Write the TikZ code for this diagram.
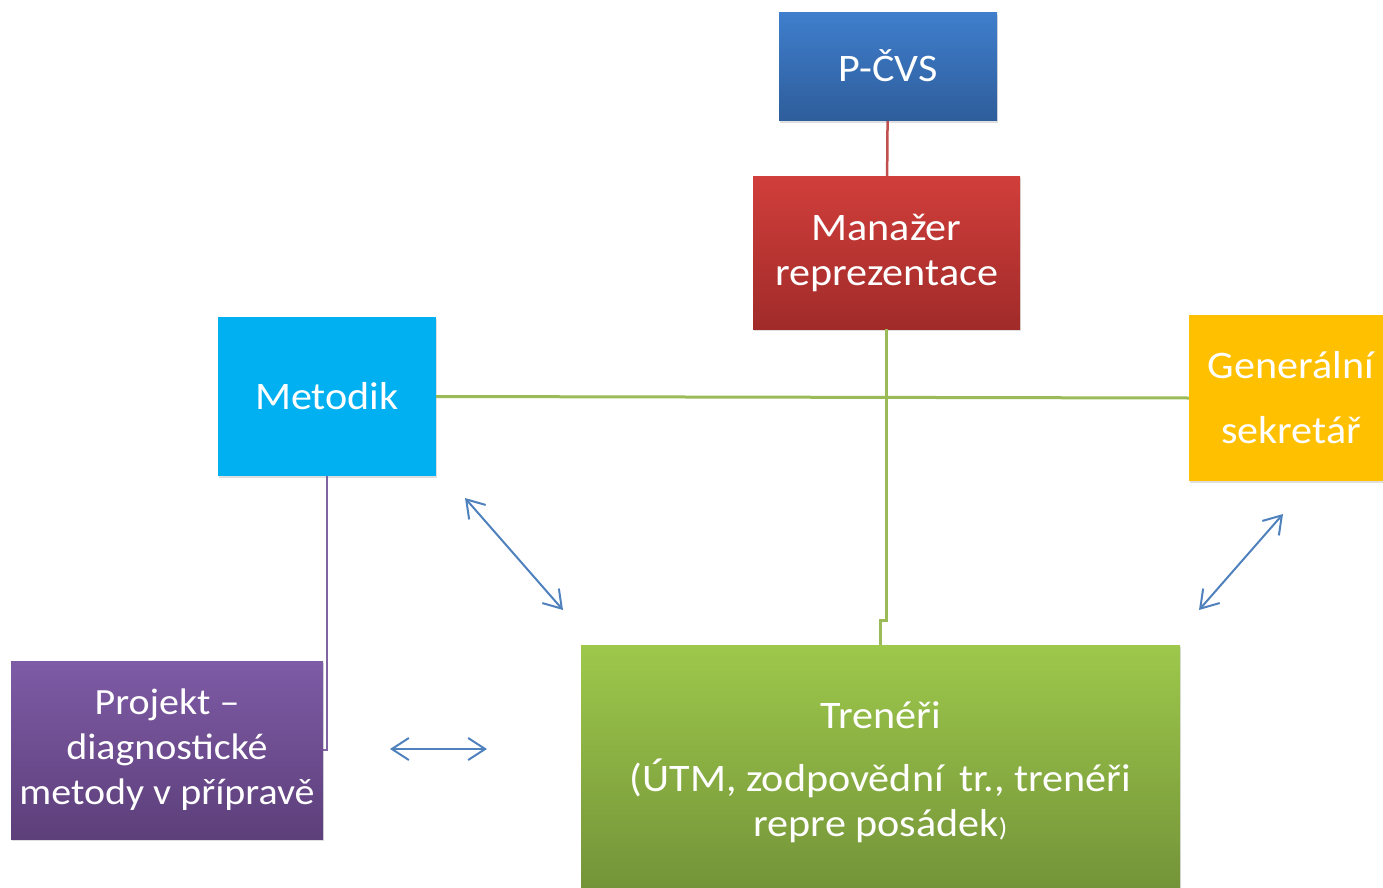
\documentclass[tikz,border=0pt]{standalone}
\usepackage{fontspec}
\setmainfont{Carlito}[FakeStretch=1.08]
\usepackage{tikz}
\usetikzlibrary{arrows.meta}
\usetikzlibrary{shadows}
\definecolor{pcvstop}{HTML}{3F7ECC}
\definecolor{pcvsbot}{HTML}{2E5D9B}
\definecolor{mantop}{HTML}{D13E3B}
\definecolor{manbot}{HTML}{A02B29}
\definecolor{metcyan}{HTML}{00B0F0}
\definecolor{genorange}{HTML}{FFC000}
\definecolor{projtop}{HTML}{7E5BA6}
\definecolor{projbot}{HTML}{5D3F7A}
\definecolor{trentop}{HTML}{9DC84B}
\definecolor{trenbot}{HTML}{729138}
\definecolor{linkred}{HTML}{C0504D}
\definecolor{linkgreen}{HTML}{9BBB59}
\definecolor{linkpurple}{HTML}{8064A2}
\definecolor{linkblue}{HTML}{4F81BD}

\begin{document}
\begin{tikzpicture}[x=1pt, y=-1pt,
  box/.style={inner sep=0pt, align=center, text=white,
    font=\fontsize{39}{45}\selectfont,
    drop shadow={shadow xshift=1pt, shadow yshift=-2pt, opacity=.25}},
  both/.style={draw=linkblue, line width=2pt,
    {Straight Barb[length=17pt,width=22pt]}-{Straight Barb[length=17pt,width=22pt]}}]
\useasboundingbox (0,0) rectangle (1383,888);
\clip (0,0) rectangle (1383,888);
\node[box, top color=pcvstop, bottom color=pcvsbot, minimum width=218, minimum height=108] (pcvs) at (888,67) {\raisebox{3pt}{P-ČVS}};
\node[box, top color=mantop, bottom color=manbot, minimum width=267, minimum height=153] (manazer) at (886.5,252.5) {Manažer\\reprezentace};
\node[box, fill=metcyan, minimum width=218, minimum height=159] (metodik) at (327,396.5) {Metodik};
\node[box, fill=genorange, minimum width=204, minimum height=166] (generalni) at (1291,398) {Generální\\[20pt]sekretář};
\node[box, top color=projtop, bottom color=projbot, minimum width=312, minimum height=178,
  font=\fontsize{37}{45}\selectfont] (projekt) at (167,750) {Projekt --\\diagnostické\\metody v přípravě};
\node[box, top color=trentop, bottom color=trenbot, minimum width=599, minimum height=255] (treneri) at (880.5,772.5) {Trenéři\\[18pt](ÚTM, zodpovědní\hspace{6pt} tr., trenéři\\repre posádek{\fontsize{26}{30}\selectfont)}};
\coordinate (jog) at (0,620);
\coordinate (mt1) at (465,498);
\coordinate (mt2) at (563,610);
\coordinate (gt1) at (1283,514);
\coordinate (gt2) at (1199,610);
\coordinate (pt1) at (390,749);
\coordinate (pt2) at (487,749);
\draw[linkred, line width=2.5pt] (pcvs) -- (manazer);
\draw[linkgreen, line width=3pt] (manazer.south) -- (manazer.south |- jog) -| (treneri.north);
\draw[linkgreen, line width=3pt] (metodik.east) -- (generalni.west);
\draw[linkpurple, line width=2.5pt] (metodik.south) |- (projekt.east);
\draw[both] (mt1) -- (mt2);
\draw[both] (gt1) -- (gt2);
\draw[both] (pt1) -- (pt2);
\end{tikzpicture}
\end{document}
